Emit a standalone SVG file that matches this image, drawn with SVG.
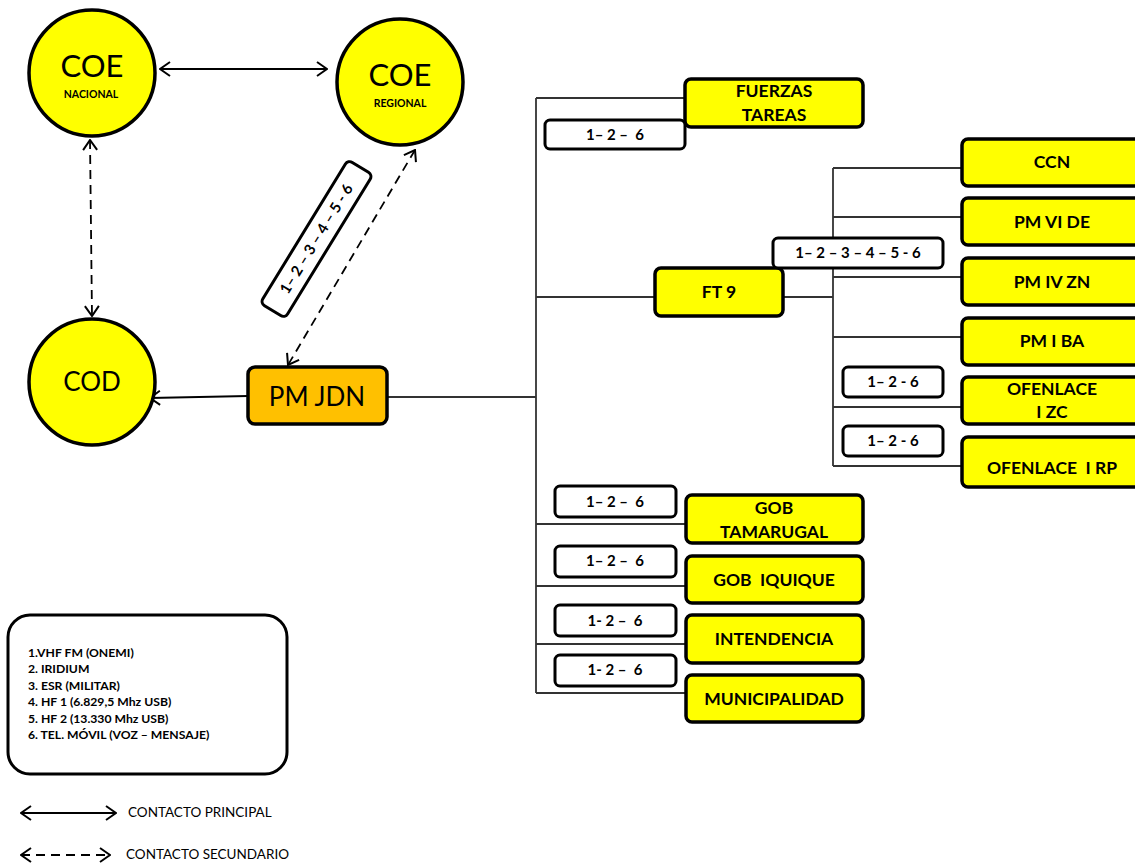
<svg xmlns="http://www.w3.org/2000/svg" width="1135" height="863" viewBox="0 0 1135 863">
<style>
text{font-family:Lato,"Open Sans","Liberation Sans",sans-serif;fill:#000;}
.circ{fill:#ffff00;stroke:#000;stroke-width:3.5;}
.box{fill:#ffff00;stroke:#000;stroke-width:3.5;}
.org{fill:#ffc000;stroke:#000;stroke-width:3.5;}
.lbl{fill:#fff;stroke:#000;stroke-width:3;}
.ln{fill:none;stroke:#333;stroke-width:1.8;}
.arr{fill:none;stroke:#000;stroke-width:1.8;}
.dash{stroke-dasharray:9,6;}
.bt{font-weight:bold;font-size:17.5px;text-anchor:middle;}
.lt{font-weight:bold;font-size:15px;text-anchor:middle;}
.leg{font-weight:bold;font-size:12.2px;}
</style>
<defs>
<marker id="ah" viewBox="0 0 12 16" refX="11" refY="8" markerWidth="12" markerHeight="16" markerUnits="userSpaceOnUse" orient="auto-start-reverse">
<path d="M1,1 L11,8 L1,15" fill="none" stroke="#000" stroke-width="2"/>
</marker>
</defs>

<g id="connectors">
<line class="arr" x1="160" y1="69" x2="327" y2="69" marker-start="url(#ah)" marker-end="url(#ah)"/>
<line class="arr dash" x1="90" y1="140" x2="92" y2="316" marker-start="url(#ah)" marker-end="url(#ah)"/>
<line class="arr dash" x1="415" y1="150" x2="288" y2="365" marker-start="url(#ah)" marker-end="url(#ah)"/>
<line class="arr" x1="248" y1="396" x2="150" y2="398" marker-end="url(#ah)"/>
<path class="ln" d="M387,397 H536 M536,98 V693 M536,98 H685 M536,297 H655 M536,524 H686 M536,586 H686 M536,644 H686 M536,693 H686"/>
<path class="ln" d="M783,297 H833 M833,168 V466 M833,168 H962 M833,217 H962 M833,277 H962 M833,337 H962 M833,407 H962 M833,466 H962"/>
</g>

<g id="coe-nacional">
<circle class="circ" cx="92" cy="73" r="63"/>
<text x="92" y="77" font-size="31" text-anchor="middle">COE</text>
<text x="91" y="98" font-size="10.5" font-weight="bold" text-anchor="middle">NACIONAL</text>
</g>
<g id="coe-regional">
<circle class="circ" cx="400" cy="82" r="63"/>
<text x="400" y="86" font-size="31" text-anchor="middle">COE</text>
<text x="400" y="107" font-size="10.5" font-weight="bold" text-anchor="middle">REGIONAL</text>
</g>
<g id="cod">
<circle class="circ" cx="92" cy="382" r="63"/>
<text x="92" y="391" font-size="26" text-anchor="middle">COD</text>
</g>
<g id="pm-jdn">
<rect class="org" x="248" y="367" width="139" height="57" rx="7"/>
<text x="317" y="406" font-size="26" text-anchor="middle">PM JDN</text>
</g>
<g id="label-diag">
<g transform="translate(316.5,239) rotate(-58.5)">
<rect class="lbl" x="-84" y="-14.5" width="168" height="29" rx="5"/>
<text class="lt" x="0" y="5" font-size="14.5">1– 2 – 3 – 4 – 5 - 6</text>
</g>
</g>

<g id="fuerzas-tareas">
<rect class="box" x="685" y="79" width="178" height="48" rx="6"/>
<text class="bt" x="774" y="97">FUERZAS</text>
<text class="bt" x="774" y="121">TAREAS</text>
</g>
<g id="label-ft">
<rect class="lbl" x="545" y="120" width="140" height="29" rx="5"/>
<text class="lt" x="615" y="140">1– 2 –&#160; 6</text>
</g>
<g id="ft9">
<rect class="box" x="655" y="268" width="128" height="48" rx="6"/>
<text class="bt" x="719" y="298">FT 9</text>
</g>
<g id="label-ft9">
<rect class="lbl" x="773" y="238" width="170" height="30" rx="5"/>
<text class="lt" x="858" y="258">1– 2 – 3 – 4 – 5 - 6</text>
</g>
<g id="ccn">
<rect class="box" x="962" y="139" width="185" height="47" rx="6"/>
<text class="bt" x="1052" y="168">CCN</text>
</g>
<g id="pm-vi-de">
<rect class="box" x="962" y="198" width="185" height="47" rx="6"/>
<text class="bt" x="1052" y="228">PM VI DE</text>
</g>
<g id="pm-iv-zn">
<rect class="box" x="962" y="258" width="185" height="47" rx="6"/>
<text class="bt" x="1052" y="288">PM IV ZN</text>
</g>
<g id="pm-i-ba">
<rect class="box" x="962" y="318" width="185" height="47" rx="6"/>
<text class="bt" x="1052" y="347">PM I BA</text>
</g>
<g id="label-zc">
<rect class="lbl" x="843" y="367" width="100" height="30" rx="5"/>
<text class="lt" x="893" y="387">1– 2 - 6</text>
</g>
<g id="ofenlace-zc">
<rect class="box" x="962" y="377" width="185" height="47" rx="6"/>
<text class="bt" x="1052" y="395">OFENLACE</text>
<text class="bt" x="1052" y="418">I ZC</text>
</g>
<g id="label-rp">
<rect class="lbl" x="843" y="426" width="100" height="30" rx="5"/>
<text class="lt" x="893" y="446">1– 2 - 6</text>
</g>
<g id="ofenlace-rp">
<rect class="box" x="962" y="437" width="185" height="50" rx="6"/>
<text class="bt" x="1052" y="474">OFENLACE&#160; I RP</text>
</g>

<g id="label-tam">
<rect class="lbl" x="555" y="486" width="121" height="31" rx="5"/>
<text class="lt" x="615" y="507">1– 2 –&#160; 6</text>
</g>
<g id="gob-tamarugal">
<rect class="box" x="686" y="495" width="177" height="48" rx="6"/>
<text class="bt" x="774" y="514">GOB</text>
<text class="bt" x="774" y="538">TAMARUGAL</text>
</g>
<g id="label-iqq">
<rect class="lbl" x="555" y="546" width="121" height="31" rx="5"/>
<text class="lt" x="615" y="566">1– 2 –&#160; 6</text>
</g>
<g id="gob-iquique">
<rect class="box" x="686" y="556" width="177" height="47" rx="6"/>
<text class="bt" x="774" y="586">GOB&#160; IQUIQUE</text>
</g>
<g id="label-int">
<rect class="lbl" x="555" y="605" width="121" height="31" rx="5"/>
<text class="lt" x="615" y="626">1- 2 –&#160; 6</text>
</g>
<g id="intendencia">
<rect class="box" x="686" y="615" width="177" height="48" rx="6"/>
<text class="bt" x="774" y="645">INTENDENCIA</text>
</g>
<g id="label-mun">
<rect class="lbl" x="555" y="655" width="121" height="31" rx="5"/>
<text class="lt" x="615" y="675">1- 2 –&#160; 6</text>
</g>
<g id="municipalidad">
<rect class="box" x="686" y="675" width="177" height="47" rx="6"/>
<text class="bt" x="774" y="705">MUNICIPALIDAD</text>
</g>

<g id="legend">
<rect x="8" y="615" width="279" height="159" rx="22" fill="#fff" stroke="#000" stroke-width="3"/>
<text class="leg" x="28" y="657">1.VHF FM (ONEMI)</text>
<text class="leg" x="28" y="673">2. IRIDIUM</text>
<text class="leg" x="28" y="690">3. ESR (MILITAR)</text>
<text class="leg" x="28" y="706">4. HF 1 (6.829,5 Mhz USB)</text>
<text class="leg" x="28" y="723">5. HF 2 (13.330 Mhz USB)</text>
<text class="leg" x="28" y="739">6. TEL. MÓVIL (VOZ – MENSAJE)</text>
<line class="arr" x1="21" y1="813" x2="116" y2="813" marker-start="url(#ah)" marker-end="url(#ah)"/>
<text x="128" y="817" font-size="13.5">CONTACTO PRINCIPAL</text>
<line class="arr dash" x1="21" y1="855" x2="110" y2="855" stroke-width="2.2" marker-start="url(#ah)" marker-end="url(#ah)"/>
<text x="126" y="859" font-size="13.5">CONTACTO SECUNDARIO</text>
</g>
</svg>
